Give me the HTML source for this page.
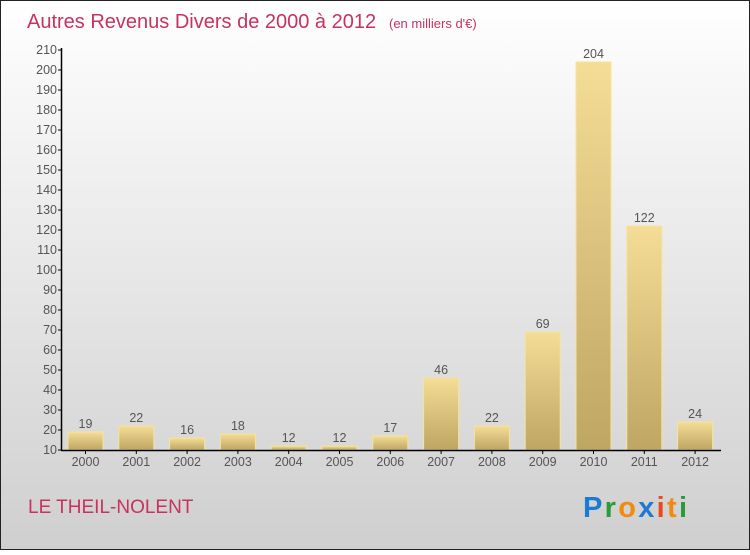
<!DOCTYPE html>
<html><head><meta charset="utf-8"><style>
html,body{margin:0;padding:0}
body{width:750px;height:550px;overflow:hidden;font-family:"Liberation Sans",sans-serif}
</style></head><body>
<svg width="750" height="550" xmlns="http://www.w3.org/2000/svg" id="svg">
<defs>
<linearGradient id="bg" x1="0" y1="0" x2="0" y2="1"><stop offset="0" stop-color="#ffffff"/><stop offset="1" stop-color="#cfcfcf"/></linearGradient>
<linearGradient id="bar" x1="0" y1="0" x2="0" y2="1"><stop offset="0" stop-color="#f4dd96"/><stop offset="1" stop-color="#bea663"/></linearGradient>
</defs>
<rect x="0.5" y="0.5" width="749" height="549" fill="url(#bg)" stroke="#222"/>
<text x="27" y="28" font-size="20" fill="#c8325e">Autres Revenus Divers de 2000 à 2012</text>
<text x="389" y="28" font-size="13" fill="#c8325e">(en milliers d'€)</text>
<g id="bars"></g>
<g id="axes"></g>
<text x="28" y="513" font-size="19" fill="#c8325e">LE THEIL-NOLENT</text>
<g font-size="29" font-weight="bold">
<text x="583" y="517" textLength="104" lengthAdjust="spacing"><tspan fill="#1c7ad4">P</tspan><tspan fill="#2a9a3a">r</tspan><tspan fill="#f08a10">o</tspan><tspan fill="#1c7ad4">x</tspan><tspan fill="#e84a1a">i</tspan><tspan fill="#f08a10">t</tspan><tspan fill="#2a9a3a">i</tspan></text>
</g>
</svg>
<script>
const categories=["2000","2001","2002","2003","2004","2005","2006","2007","2008","2009","2010","2011","2012"];
const values=[19,22,16,18,12,12,17,46,22,69,204,122,24];
const yTicks=[10,20,30,40,50,60,70,80,90,100,110,120,130,140,150,160,170,180,190,200,210];
const NS="http://www.w3.org/2000/svg";
const y=v=>450-(v-10)*2;
const x=i=>85.5+i*50.8;
const bars=document.getElementById('bars'),axes=document.getElementById('axes');
function mk(tag,attrs,parent){const e=document.createElementNS(NS,tag);for(const k in attrs)e.setAttribute(k,attrs[k]);parent.appendChild(e);return e;}
values.forEach((v,i)=>{
 const r=mk('rect',{x:x(i)-17.5,y:y(v),width:35,height:450-y(v),fill:'url(#bar)',stroke:'#f6e49a','stroke-width':1},bars);
 
 
 const t=mk('text',{x:x(i),y:y(v)-4,'text-anchor':'middle','font-size':12.5,fill:'#555'},bars);
 t.textContent=v;
 
 
 const c=mk('text',{x:x(i),y:466,'text-anchor':'middle','font-size':12.5,fill:'#555'},axes);
 c.textContent=categories[i];
 
 
 const tk=mk('line',{x1:x(i),x2:x(i),y1:450,y2:454,stroke:'#000'},axes);
 
 
});
yTicks.forEach(v=>{
 const l=mk('line',{x1:58,x2:62,y1:y(v),y2:y(v),stroke:'#000'},axes);
 
 
 const t=mk('text',{x:57,y:y(v)+4,'text-anchor':'end','font-size':12.5,fill:'#555'},axes);
 t.textContent=v;
 
 
});
const ya=mk('line',{x1:61.5,x2:61.5,y1:48,y2:450,stroke:'#000','stroke-width':1.5},axes);


const xa=mk('line',{x1:61,x2:721,y1:450.5,y2:450.5,stroke:'#000','stroke-width':1.5},axes);


</script>
</body></html>
